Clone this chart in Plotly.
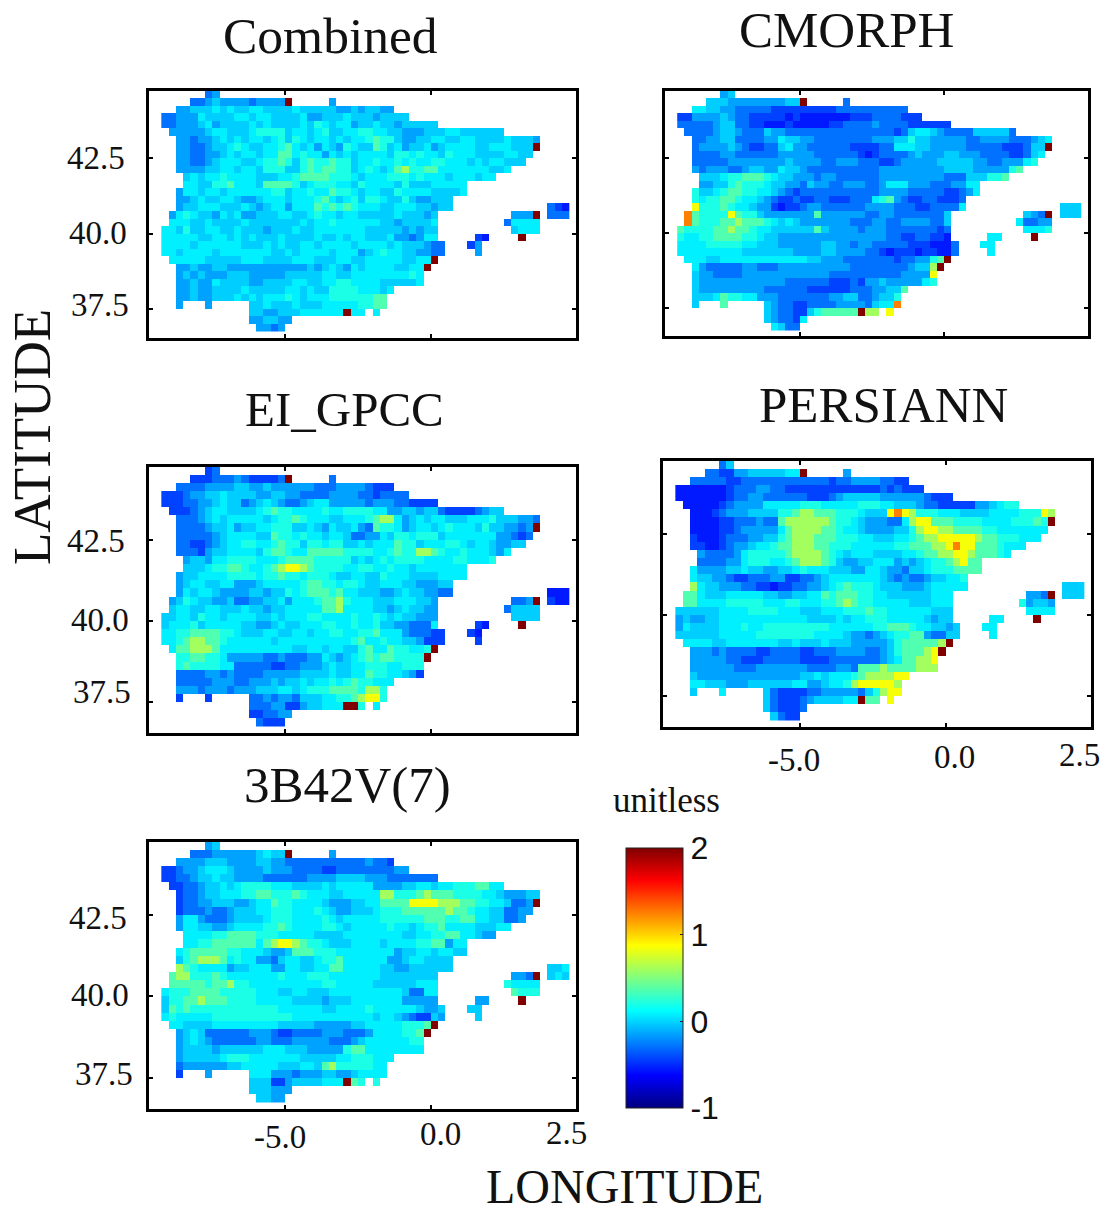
import plotly.graph_objects as go

W, H = 1106, 1213

LEVELS = {"0": -0.55, "1": -0.43, "2": -0.29, "3": -0.15, "4": -0.02, "5": 0.08, "6": 0.2,
          "7": 0.36, "8": 0.6, "9": 0.85, "o": 1.25, "R": 2.0}

LAND_RUNS = [
    [(6, 7)], [(4, 17), (23, 23)], [(2, 31)], [(0, 33)], [(0, 37)], [(1, 46)], [(2, 51)], [(2, 51)],
    [(2, 50)], [(2, 49)], [(2, 47)], [(3, 45)], [(3, 41)], [(2, 41)], [(2, 39)], [(2, 39), (53, 55)],
    [(1, 37), (48, 51), (53, 55)], [(1, 37), (47, 51)], [(0, 37), (48, 51)],
    [(0, 37), (43, 44), (49, 49)], [(0, 38), (42, 43)], [(0, 38), (43, 43)], [(1, 37)], [(2, 36)],
    [(2, 35)], [(2, 35)], [(2, 31)], [(2, 30)], [(2, 2), (6, 6), (12, 30)], [(12, 27), (29, 29)],
    [(12, 17)], [(13, 16)],
]
RED_CELLS = [(1, 17), (7, 51), (16, 51), (19, 49), (22, 37), (23, 36), (29, 25)]

COMBINED = [
    "23", "22343333233333 3",
    "3344454544 5544445444 4433434433",
    "2233354444 5545544445 3344454443 4444",
    "2233345344 4454544445 4654553445 44344444",
    "3333345544 4566664554 5644556655 4433344455 444444",
    "3323345454 5545646545 5454556766 4334455445 5444454443",
    "3322344565 4455675453 5436544764 5344534555 5445554444",
    "3322334545 5455775655 3545455554 6656554655 544445544",
    "3322345554 4566764676 6766455655 6565566555 45455444",
    "3333445545 5466644676 7766456545 7866775555 555445",
    "4545565555 4445567777 6665455566 6565554555 455",
    "5544667555 4777764566 6554655554 6444555 55",
    "3554554555 5556645565 5766545544 6555544445",
    "3345445543 3455545556 7545646654 46433 444",
    "3445554445 4345535557 6767655544 55544344 210",
    "3565443545 3344455445 6554554444 4544434 333R 222",
    "5554454444 5444444454 5565555554 4344445 25555",
    "5546445544 5444344454 4555555544 44434344 4555",
    "5555544554 5454445444 4544545544 45332355 10 R",
    "5555455555 5444545445 5455554555 545444322 13",
    "5545555455 5555544545 5554555345 655443322 3",
    "5555544444 5554444555 4445544555 5544 55R",
    "3343344333 3333333343 4543545555 4455R",
    "3434333444 3333344444 5544555555 5565",
    "3343354444 3344445544 5566555544 4445",
    "3343344445 4444455454 4666655545",
    "3343344454 5455565455 566666677",
    "3 3 4454445444 555556677",
    "4433444555 555R55 5",
    "334433", "3323",
]

CMORPH = [
    "34", "4443333333 344R 2",
    "5544332222 2111111111 2222222222",
    "1133334322 1111101000 0000111222 2111",
    "2222234422 1100010000 0112222322 22111111",
    "2222344322 2433222222 2222222221 2455432222 444442",
    "2233442222 3354433222 2222233344 6443333322 3333222345",
    "2333343211 2245332222 2211112255 5443333322 222111244R",
    "2222332222 2233333222 2221012222 3433344333 222211245",
    "2222233333 3334333322 3332221123 3333444443 32233356",
    "3233322344 3354432222 2222223333 3333344443 333367",
    "4445667776 5443332332 2222233333 3333222444 667",
    "3344676665 4433243322 3332235553 332223 355",
    "6445677665 5432122222 2222223333 2222211235",
    "6566776554 3211211221 1122256732 11221112",
    "9666765543 3101123322 2222333322 21122225 444",
    "o766669766 4333333373 3333322332 2222224 4322 444",
    "o766677877 7654543333 3332223322 3333224 52233",
    "7666677877 6554444447 4333323332 22222212 5556",
    "6556677776 6544333333 3333333332 21122110 55 R",
    "5555666665 5444333333 4433233222 221110002 55",
    "5555555554 4444443333 4433332210 111011002 5",
    "5554455555 5555555443 3322222221 223367R",
    "5322222332 2233333333 3322222222 3448R",
    "4332222333 3333333332 2222222223 3339",
    "4333333333 3332222221 1121334333 3356",
    "4333333333 2222221111 1122233 447",
    "4445766553 3322222223 344223446",
    "4 7 4322112222 333324 55o",
    "43221146 77777R88 9",
    "432215", "5422",
]

EI_GPCC = [
    "12", "1112223211 112R 2",
    "2222333344 3343333332 2233332111",
    "1112334454 4443344332 2223333221 2222",
    "1112233454 4234543223 4553333323 33221111",
    "1112345544 4456766555 5655666655 3344344211 112344",
    "2223454555 5545667655 5445556788 5345455444 5556444332",
    "2222344534 4556664454 3544532766 5345545655 546443323R",
    "2222234555 5447665655 4554223354 6656664555 555533212",
    "2211234556 6556766466 5664454555 7664555665 45543344",
    "2221344555 5467765577 7776666556 7668876556 555435",
    "3443556666 5556777766 6664545656 6665555665 556",
    "4445667765 5678998766 6655665565 5455555 55",
    "3445555666 6566766566 6544554465 5544445555",
    "3455445533 3455555677 6656654455 54433344",
    "3545543333 4434465677 7675544433 45443322 000",
    "3465443342 2334453555 6778655544 4555443 223R 100",
    "4554455444 5443445555 5778555544 3454433 24444",
    "4455465545 5554454555 6655556556 54544333 4444",
    "4555645555 5443345445 5566556556 44332225 10 R",
    "5566777766 5444554455 4556655667 555322211 10",
    "5567887765 5555545555 5555556755 655443111 1",
    "5778887555 5555555445 5455446755 7665566",
    "6677665333 3322322233 5434567677 6666R",
    "6766665522 2221122333 4544556665 5666",
    "2222332322 2233333444 4544557665 5431",
    "2222233322 3334344545 5656766555",
    "3332333233 3444554566 677776886",
    "1 1 2232332444 556678996",
    "2223311344 5555R6 5",
    "112233", "2111",
]

PERSIANN = [
    "24", "2211334444 455R 3",
    "2222211222 2222222221 2233332211",
    "0000000122 2332211111 1111111121 2111",
    "0000000122 3322222211 1234444433 33332111",
    "0000012333 3555556665 5555666554 4432211111 334566",
    "0001233344 4466788777 6665444 9o9 8666555444 4555566698",
    "0000112223 2278888887 6654333225 8997776666 555566676R",
    "0000112333 3357888877 6554333344 6899887777 665555555",
    "1000122233 4467888777 6665544455 6788999998 77666555",
    "1100123345 5677888776 6655555566 777889o997 776555",
    "3222235666 6678888765 4555444455 6778899877 765",
    "2222335666 5567888764 3344555343 4566789 77",
    "5333344544 3344565554 4433554332 4456667777",
    "5443321122 2331122345 5555554323 22344556",
    "8544333221 1011223345 6766654443 33455555 444",
    "7754445555 5443344557 6777665544 4444555 332R 444",
    "7755556666 6555665556 6787665555 5444555 63443",
    "4444445555 6666555444 5556667665 55555444 5555",
    "3433445555 5555555544 4454556665 55554344 55 R",
    "3544445556 5566666666 6555555667 776554434 55",
    "4444445555 5666666665 5554332345 667732244 5",
    "5555445555 5554454445 4443333346 7777789",
    "3332322221 1222211222 3333223467 7789R",
    "3333322111 2222211112 2222223457 7889",
    "3333332223 3333332222 3327778777 7888",
    "4333333333 3333344545 5567888899",
    "5544433344 4444553345 568999998",
    "4 5 4211112233 333246899",
    "4211123444 455R77 9",
    "421112", "4211",
]

TRMM_3B42V7 = [
    "34", "2223333334 544R 3",
    "3333444333 3443322222 2222223221",
    "1123345554 3333433322 2211222222 2233",
    "1122344544 3333222222 3333444433 32222222",
    "1122344545 6666555444 4545555533 3344554556 667755",
    "1223445556 6776667655 5445555588 6667877766 6655433344",
    "1223344433 4557665555 4333445577 7799998887 766554223R",
    "1222322344 4556665556 5433444566 6777777877 655442233",
    "3553222344 4456665555 6545555566 6666777667 75544223",
    "3554433455 5566765555 6654555556 5545667555 544455",
    "5555667777 6665555544 4455555555 4455667755 433",
    "5566777777 5789987665 4445555455 5566773 55",
    "5677777665 5543347776 6655555555 3445545544",
    "4678887565 5332455445 6675555553 34554444",
    "8765555344 5553355445 5775555544 33444444 445",
    "7886667655 5555565556 6655555554 4444444 332R 454",
    "7777767786 6555555555 5665555544 4444555 65555",
    "5666777766 6665554455 4445555555 55542255 7666",
    "4667787776 6665555544 4434445555 55533333 33 R",
    "4767666666 6666665555 5544555565 555554334 44",
    "5655555666 6666666655 5555555554 554321143 4",
    "5544445555 5555544444 3333344555 556667R",
    "3454222222 3332112222 3332223555 5667R",
    "3454322222 2332223333 3222345555 5566",
    "3444434444 4455544433 3336775555 5555",
    "3444445666 5555555444 4455666555",
    "2333333445 5555444554 786666655",
    "1 3 5553332333 443345555",
    "4441134444 555R76 6",
    "444333", "4433",
]

TITLES = ["Combined", "CMORPH", "EI_GPCC", "PERSIANN", "3B42V(7)"]
SERIES = [COMBINED, CMORPH, EI_GPCC, PERSIANN, TRMM_3B42V7]
# frame left, right, top, bottom in page pixels
FRAMES = [(148.5, 576, 90.5, 338), (664.5, 1088, 90.5, 336), (148.5, 576, 466.5, 733),
          (662.5, 1091, 460.5, 727), (148.5, 576, 841.5, 1109)]
TITLE_POS = [(330, 35), (846, 30), (344, 410), (883, 405), (347, 785)]
TITLE_SIZE = [51.5, 51, 49, 51, 51]

LON_CENTERS = [-9.125 + 0.25 * c for c in range(56)]
LAT_CENTERS = [44.625 - 0.25 * r for r in range(32)]
LON_RANGE = [-9.69, 4.97]
LAT_RANGE = [36.55, 44.75]
LON_TICKS = [-5, 0]
LAT_TICKS = [37.5, 40, 42.5]

JET = [[0, "rgb(0,0,128)"], [0.125, "rgb(0,0,255)"], [0.375, "rgb(0,255,255)"],
       [0.625, "rgb(255,255,0)"], [0.875, "rgb(255,0,0)"], [1, "rgb(128,0,0)"]]

problems = []
for title, rows in zip(TITLES, SERIES):
    for r, (text, runs) in enumerate(zip(rows, LAND_RUNS)):
        need = sum(b - a + 1 for a, b in runs)
        got = len(text.replace(" ", ""))
        if got != need:
            problems.append(f"{title} row {r}: {got} != {need}")
if problems:
    raise ValueError("; ".join(problems))


def grid(rows):
    z = [[None] * 56 for _ in LAND_RUNS]
    for r, (text, runs) in enumerate(zip(rows, LAND_RUNS)):
        chars = text.replace(" ", "")
        i = 0
        for a, b in runs:
            for c in range(a, b + 1):
                z[r][c] = LEVELS[chars[i]]
                i += 1
    for r, c in RED_CELLS:
        z[r][c] = LEVELS["R"]
    return z


fig = go.Figure()
layout = {}
for k, (rows, title, frame) in enumerate(zip(SERIES, TITLES, FRAMES)):
    n = "" if k == 0 else str(k + 1)
    fig.add_trace(go.Heatmap(x=LON_CENTERS, y=LAT_CENTERS, z=grid(rows), coloraxis="coloraxis",
                             xaxis="x" + n, yaxis="y" + n, hoverongaps=False, name=title))
    l, r, t, b = frame
    common = dict(showgrid=False, zeroline=False, showline=True, linecolor="black", linewidth=3,
                  mirror="allticks", ticks="inside", ticklen=4, tickwidth=2, tickcolor="black",
                  showticklabels=False, fixedrange=True)
    layout["xaxis" + n] = dict(domain=[l / W, r / W], range=LON_RANGE, tickvals=LON_TICKS,
                               anchor="y" + n, **common)
    layout["yaxis" + n] = dict(domain=[1 - b / H, 1 - t / H], range=LAT_RANGE, tickvals=LAT_TICKS,
                               anchor="x" + n, **common)


def label(text, x, y, size, font="Liberation Serif", angle=0):
    return dict(text=text, x=x / W, y=1 - y / H, xref="paper", yref="paper", showarrow=False,
                xanchor="center", yanchor="middle", textangle=angle,
                font=dict(family=font, size=size, color="#111"))


notes = [label(t, x, y, s) for t, (x, y), s in zip(TITLES, TITLE_POS, TITLE_SIZE)]
for text, x, y in [("42.5", 96, 158), ("40.0", 98, 233), ("37.5", 100, 305),
                   ("42.5", 96, 541), ("40.0", 100, 620), ("37.5", 102, 692),
                   ("42.5", 98, 918), ("40.0", 100, 995), ("37.5", 104, 1074),
                   ("-5.0", 280, 1137), ("0.0", 440, 1134), ("2.5", 566, 1133),
                   ("-5.0", 794, 760), ("0.0", 954, 757), ("2.5", 1079, 755)]:
    notes.append(label(text, x, y, 33))
notes.append(label("LATITUDE", 32, 437, 53, angle=-90))
notes.append(label("LONGITUDE", 624, 1186, 48))
notes.append(label("unitless", 666, 800, 35))

fig.update_layout(
    width=W, height=H, margin=dict(l=0, r=0, t=0, b=0), paper_bgcolor="white", plot_bgcolor="white",
    annotations=notes,
    coloraxis=dict(cmin=-1, cmax=2, colorscale=JET, colorbar=dict(
        lenmode="pixels", len=260, thicknessmode="pixels", thickness=57,
        x=626 / W, xanchor="left", y=1 - 848 / H, yanchor="top", xpad=0, ypad=0,
        tickvals=[-1, 0, 1, 2], ticktext=["-1", "0", "1", "2"], ticks="inside", ticklen=3,
        tickcolor="#222", outlinecolor="#222", outlinewidth=1,
        tickfont=dict(family="Liberation Sans", size=32, color="#111"))),
    **layout,
)
fig.write_html("out.html", config={"displayModeBar": False},
               post_script="document.body.style.margin='0';")
